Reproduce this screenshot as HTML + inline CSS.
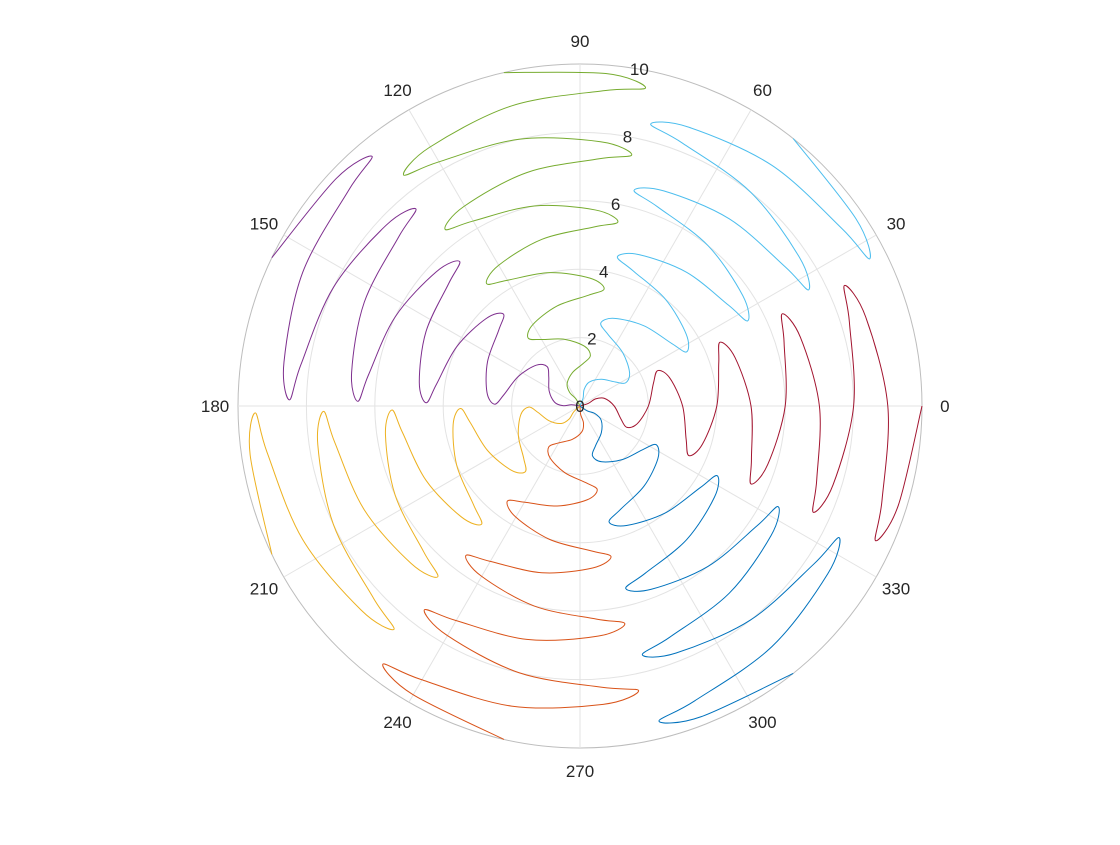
<!DOCTYPE html>
<html><head><meta charset="utf-8"><style>
html,body{margin:0;padding:0;background:#fff;}
svg text{font-family:"Liberation Sans",Arial,sans-serif;font-size:17px;fill:#262626;}
</style></head><body>
<svg id="chart" width="1120" height="840" viewBox="0 0 1120 840" xmlns="http://www.w3.org/2000/svg">
<g id="grid"></g>
<g id="series"></g>
<g id="labels"></g>
</svg>
<script>
// Radius samples of one petal-spiral series (data units)
const rValues = [0,0.25,0.5,0.75,1,1.25,1.5,1.75,2,2.25,2.5,2.75,3,3.25,3.5,3.75,4,4.25,4.5,4.75,5,5.25,5.5,5.75,6,6.25,6.5,6.75,7,7.25,7.5,7.75,8,8.25,8.5,8.75,9,9.25,9.5,9.75,10];
// Angle samples (degrees) read from the red series
const thetaValues = [0,17.3,24.5,17.3,0,-17.3,-24.5,-17.3,0,17.3,24.5,17.3,0,-17.3,-24.5,-17.3,0,17.3,24.5,17.3,0,-17.3,-24.5,-17.3,0,17.3,24.5,17.3,0,-17.3,-24.5,-17.3,0,17.3,24.5,17.3,0,-17.3,-24.5,-17.3,0];
// Rotation of each series (degrees)
const seriesOffsets = [0,51.43,102.86,154.29,205.71,257.14,308.57];
const seriesNames = ['series-1','series-2','series-3','series-4','series-5','series-6','series-7'];
const seriesColors = ['#A2142F','#4DBEEE','#77AC30','#7E2F8E','#EDB120','#D95319','#0072BD'];
const rTicks = [0,2,4,6,8,10];
const angleTicks = [0,30,60,90,120,150,180,210,240,270,300,330];

const NS='http://www.w3.org/2000/svg';
const cx=580, cy=406, R=342, rMax=10;
function rScale(r){return r/rMax*R;}
function pt(thetaDeg,r){const a=thetaDeg*Math.PI/180, d=rScale(r);return [cx+d*Math.cos(a), cy-d*Math.sin(a)];}
function mk(tag,attrs,parent){const e=document.createElementNS(NS,tag);for(const k in attrs)e.setAttribute(k,attrs[k]);parent.appendChild(e);return e;}

const grid=document.getElementById('grid');
rTicks.forEach(function(t){
  if(t===0) return;
  const c=mk('circle',{cx:cx,cy:cy,r:rScale(t),fill:'none',stroke:t===rMax?'#bdbdbd':'#e3e3e3','stroke-width':1},grid);
  
  
});
angleTicks.forEach(function(a){
  const p=pt(a,rMax);
  const l=mk('line',{x1:cx,y1:cy,x2:p[0],y2:p[1],stroke:'#e3e3e3','stroke-width':1},grid);
  
  
});

const sg=document.getElementById('series');
seriesOffsets.forEach(function(off,i){
  const pts=rValues.map(function(r,j){return pt(thetaValues[j]+off,r);});
  let d='M'+pts[0][0].toFixed(2)+','+pts[0][1].toFixed(2);
  for(let j=0;j<pts.length-1;j++){
    const p0=pts[Math.max(0,j-1)],p1=pts[j],p2=pts[j+1],p3=pts[Math.min(pts.length-1,j+2)];
    const c1=[p1[0]+(p2[0]-p0[0])/6,p1[1]+(p2[1]-p0[1])/6];
    const c2=[p2[0]-(p3[0]-p1[0])/6,p2[1]-(p3[1]-p1[1])/6];
    d+=' C'+c1[0].toFixed(2)+','+c1[1].toFixed(2)+' '+c2[0].toFixed(2)+','+c2[1].toFixed(2)+' '+p2[0].toFixed(2)+','+p2[1].toFixed(2);
  }
  const p=mk('path',{d:d,fill:'none',stroke:seriesColors[i],'stroke-width':1},sg);
  
  
});

const lg=document.getElementById('labels');
angleTicks.forEach(function(a){
  const p=pt(a,10.67);
  const t=mk('text',{x:p[0],y:p[1]+6,'text-anchor':'middle'},lg);
  t.textContent=a;
  
  
});
rTicks.forEach(function(r){
  const p=pt(80,r);
  const t=mk('text',{x:p[0],y:p[1]+6,'text-anchor':'middle'},lg);
  t.textContent=r;
  
  
});
</script>
</body></html>
